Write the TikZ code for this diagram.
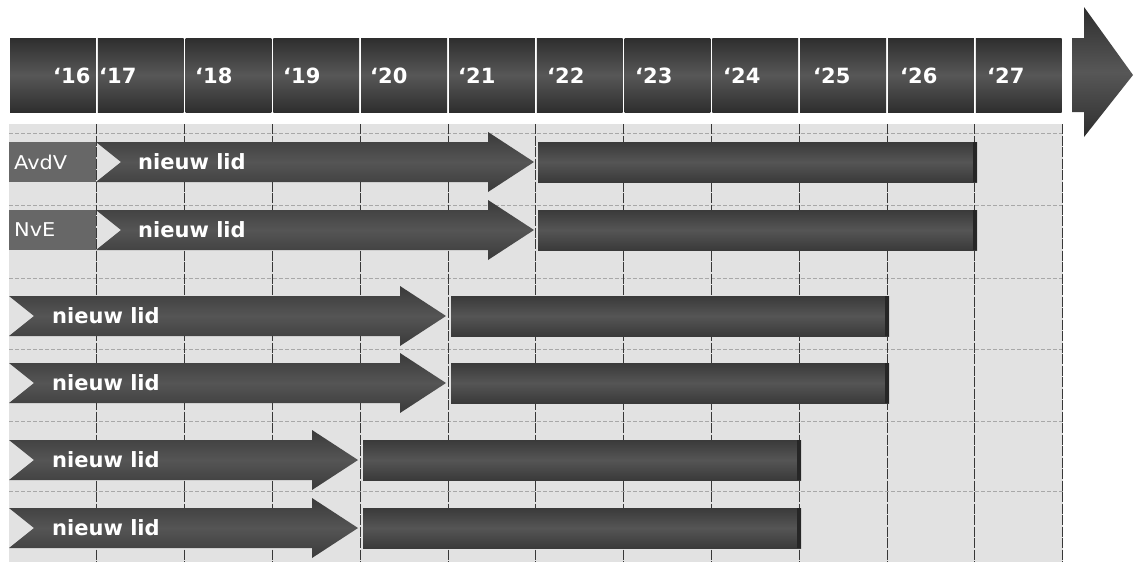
\documentclass[tikz,border=0pt]{standalone}
\usepackage{fontspec}
\setmainfont{DejaVu Sans}
\newfontfamily\boxfont[FakeStretch=1.1]{DejaVu Sans}
\definecolor{hdrdark}{HTML}{2E2E2E}
\definecolor{hdrmid}{HTML}{575757}
\definecolor{bardark}{HTML}{3A3A3A}
\definecolor{barmid}{HTML}{555555}
\definecolor{gridbg}{HTML}{E2E2E2}
\definecolor{gridline}{HTML}{383838}
\definecolor{hline}{HTML}{A8A8A8}
\definecolor{namebox}{HTML}{676767}
\newcommand\lidarrow[3]{%
  \path[barfill] (#1,#3-20) -- (#2-46,#3-20) -- (#2-46,#3-30) -- (#2,#3)
     -- (#2-46,#3+30) -- (#2-46,#3+20) -- (#1,#3+20) -- (#1+25,#3) -- cycle;}
\newcommand\longbar[3]{%
  \path[barfill] (#1,#3-20) rectangle (#2,#3+20);
  \fill[black!85] (#2-4,#3-20) rectangle (#2,#3+20);}
\begin{document}
\begin{tikzpicture}[x=1pt,y=-1pt,
  hdrcell/.style={top color=hdrdark, bottom color=hdrdark, middle color=hdrmid},
  barfill/.style={top color=bardark, bottom color=bardark, middle color=barmid},
  yearlbl/.style={anchor=west, text=white, font=\fontsize{21}{25}\selectfont\bfseries, inner sep=0pt},
  lidlbl/.style={anchor=west, text=white, font=\fontsize{21}{25}\selectfont\bfseries, inner sep=0pt},
  namelbl/.style={anchor=west, text=white, font=\boxfont\fontsize{19}{22}\selectfont, inner sep=0pt},
  vline/.style={draw=gridline, line width=1pt, dash pattern=on 10pt off 1.5pt},
  hrow/.style={draw=hline, line width=0.7pt, dash pattern=on 4pt off 2pt},
]
\useasboundingbox (0,0) rectangle (1134,562);
\fill[white] (0,0) rectangle (1134,562);
% grid
\fill[gridbg] (9,124) rectangle (1063,562);
\foreach \y in {133,205,278,349,421,491} \draw[hrow] (9,\y) -- (1063,\y);
\foreach \i in {1,...,12} \draw[vline] ({9+\i*87.8},124) -- ({9+\i*87.8},562);
% header
\foreach \i in {0,...,11} \path[hdrcell] ({9+\i*87.8+1},38) rectangle ({9+(\i+1)*87.8-1},112);
\foreach \n/\x in {16/53,17/99,18/195,19/283,20/370,21/458,22/547,23/635,24/723,25/813,26/900,27/987}
  \node[yearlbl] (y\n) at (\x,75.5) {‘\n};
% big arrow
\path[top color=hdrdark, bottom color=hdrdark, middle color=hdrmid]
  (1072,38) -- (1084,38) -- (1084,7) -- (1133,75) -- (1084,137) -- (1084,112) -- (1072,112) -- cycle;
% rows 1-2
\foreach \c/\nm in {162/AvdV,230/NvE} {
  \fill[namebox] (9,\c-20) rectangle (96,\c+20);
  \node[namelbl] (\nm) at (14,\c) {\nm};
  \lidarrow{96}{534}{\c}
  \longbar{538}{977}{\c}
}
\node[lidlbl] (lid1) at (138,162) {nieuw lid};
\node[lidlbl] (lid2) at (138,230) {nieuw lid};
% rows 3-4
\foreach \c in {316,383} {
  \lidarrow{9}{446}{\c}
  \longbar{451}{889}{\c}
}
\node[lidlbl] (lid3) at (52,316) {nieuw lid};
\node[lidlbl] (lid4) at (52,383) {nieuw lid};
% rows 5-6
\foreach \c in {460,528} {
  \lidarrow{9}{358}{\c}
  \longbar{363}{801}{\c}
}
\node[lidlbl] (lid5) at (52,460) {nieuw lid};
\node[lidlbl] (lid6) at (52,528) {nieuw lid};
\end{tikzpicture}
\end{document}
